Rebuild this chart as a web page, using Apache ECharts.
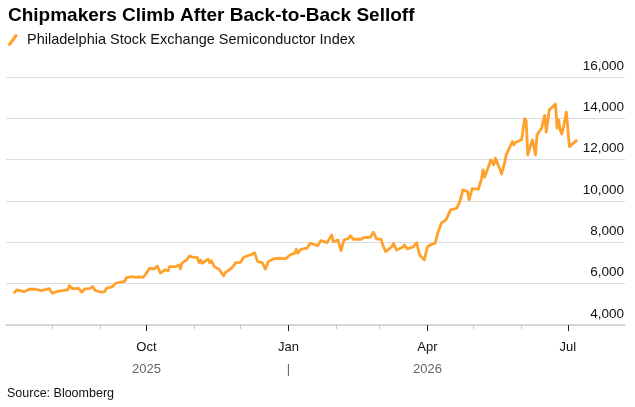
<!DOCTYPE html>
<html>
<head>
<meta charset="utf-8">
<script src="https://cdn.jsdelivr.net/npm/echarts@6/dist/echarts.min.js"></script>
<style>
html,body{margin:0;padding:0;background:#fff;}
#chart{width:635px;height:407px;}
</style>
</head>
<body>
<div id="chart"></div>
<script>
const titleText = 'Chipmakers Climb After Back-to-Back Selloff';
const seriesName = 'Philadelphia Stock Exchange Semiconductor Index';
const sourceText = 'Source: Bloomberg';

const dates = [
'2025-07-07','2025-07-09','2025-07-11','2025-07-14','2025-07-17','2025-07-21','2025-07-22','2025-07-25','2025-07-30',
'2025-08-01','2025-08-04','2025-08-05','2025-08-07','2025-08-11','2025-08-12','2025-08-14','2025-08-18','2025-08-20',
'2025-08-22','2025-08-25','2025-08-27','2025-08-29',
'2025-09-02','2025-09-04','2025-09-05','2025-09-09','2025-09-11','2025-09-15','2025-09-17','2025-09-18','2025-09-22',
'2025-09-24','2025-09-26','2025-09-29','2025-09-30',
'2025-10-02','2025-10-03','2025-10-06','2025-10-08','2025-10-09','2025-10-10','2025-10-13','2025-10-14','2025-10-15',
'2025-10-16','2025-10-20','2025-10-22','2025-10-23','2025-10-24','2025-10-27','2025-10-29','2025-10-31',
'2025-11-03','2025-11-04','2025-11-05','2025-11-06','2025-11-07','2025-11-10','2025-11-11','2025-11-12','2025-11-14',
'2025-11-17','2025-11-18','2025-11-20','2025-11-21','2025-11-25','2025-11-28',
'2025-12-01','2025-12-03','2025-12-05','2025-12-08','2025-12-10','2025-12-12','2025-12-15','2025-12-17','2025-12-19',
'2025-12-22','2025-12-26','2025-12-30',
'2026-01-02','2026-01-05','2026-01-06','2026-01-07','2026-01-09','2026-01-13','2026-01-15','2026-01-20','2026-01-22',
'2026-01-26','2026-01-27','2026-01-29','2026-01-30',
'2026-02-02','2026-02-04','2026-02-06','2026-02-09','2026-02-10','2026-02-12','2026-02-17','2026-02-19','2026-02-23',
'2026-02-25','2026-02-27',
'2026-03-02','2026-03-03','2026-03-05','2026-03-09','2026-03-10','2026-03-12','2026-03-16','2026-03-17','2026-03-19',
'2026-03-23','2026-03-25','2026-03-26','2026-03-27','2026-03-30',
'2026-04-01','2026-04-03','2026-04-06','2026-04-08','2026-04-10','2026-04-13','2026-04-14','2026-04-16','2026-04-20',
'2026-04-21','2026-04-22','2026-04-24','2026-04-27','2026-04-28','2026-04-30',
'2026-05-04','2026-05-05','2026-05-06','2026-05-07','2026-05-08','2026-05-11','2026-05-12','2026-05-13','2026-05-14',
'2026-05-15','2026-05-18','2026-05-19','2026-05-20','2026-05-21','2026-05-22','2026-05-24','2026-05-26','2026-05-27',
'2026-05-28',
'2026-06-01','2026-06-03','2026-06-04','2026-06-05','2026-06-08','2026-06-10','2026-06-11','2026-06-14','2026-06-16',
'2026-06-17','2026-06-19','2026-06-23','2026-06-24','2026-06-25','2026-06-26','2026-06-27','2026-06-28','2026-06-30',
'2026-07-02','2026-07-07'
];

const values = [
5535,5695,5660,5615,5730,5730,5645,5660,5760,
5535,5615,5535,5660,5695,5905,5760,5775,5585,
5745,5760,5855,5660,
5585,5615,5775,5855,6020,6085,6115,6290,6340,
6310,6325,6310,6375,
6630,6745,6710,6855,6795,6505,6665,6745,6630,
6825,6825,6905,6725,6990,7150,7340,7280,
7260,7015,7150,6990,7065,7180,7015,7115,6825,
6695,6630,6375,6535,6745,7015,
7035,7280,7340,7405,7500,7065,7015,6710,7065,
7195,7230,7195,
7390,7470,7665,7470,7665,7715,7955,7840,8085,
7985,8050,8360,8035,
8115,7600,8115,8200,8325,8150,8150,8230,8245,
8490,8165,
8150,7875,7550,7790,7955,7630,7760,7875,7680,
7790,7985,7665,7390,7150,
7790,7875,7955,8520,8925,9085,9245,9570,9650,
9730,9970,10540,10455,10055,10600,
10570,10540,11055,11505,11150,11750,11990,12075,11750,
12075,11540,11300,11310,11830,12235,12550,12880,12720,
12830,
12960,13990,13860,12235,12960,12235,13200,13525,14140,
13330,14415,14690,13525,13930,13445,13235,13525,14300,
12630,12960
];

const majorTickDates = ['2025-10-01','2026-01-01','2026-04-01','2026-07-01'];
const monthLabels = ['Oct','Jan','Apr','Jul'];
const yearLabels = ['2025','|','2026',''];
const minorTickDates = ['2025-08-01','2025-09-01','2025-11-01','2025-12-01','2026-02-01','2026-03-01','2026-05-01','2026-06-01'];
const xMin = '2025-07-02';
const xMax = '2026-08-07';
const yTicks = [4000, 6000, 8000, 10000, 12000, 14000, 16000];

function ts(s){ const p = s.split('-').map(Number); return Date.UTC(p[0], p[1]-1, p[2]); }

const seriesData = dates.map((d, i) => [ts(d), values[i]]);
const majorTs = majorTickDates.map(ts);
const minorTs = minorTickDates.map(ts);

const orange = '#ffa12c';
const font = '"Liberation Sans", Arial, Helvetica, sans-serif';

const chart = echarts.init(document.getElementById('chart'), null, {renderer: 'canvas'});
chart.setOption({
  animation: false,
  backgroundColor: '#ffffff',
  textStyle: {fontFamily: font},
  title: {
    text: titleText,
    left: 3, top: 1,
    textStyle: {fontSize: 19, fontWeight: 'bold', color: '#000', fontFamily: font}
  },
  grid: {left: 6, right: 10, top: 77, bottom: 82, containLabel: false, outerBoundsMode: 'none'},
  xAxis: [{
    type: 'value',
    min: ts(xMin), max: ts(xMax),
    axisLine: {show: true, lineStyle: {color: '#cfcfcf', width: 1.5}},
    axisTick: {show: true, customValues: majorTs, length: 6, lineStyle: {color: '#222', width: 1}},
    splitLine: {show: false},
    axisLabel: {
      customValues: majorTs,
      margin: 11,
      formatter: function (v) {
        const i = majorTs.indexOf(v);
        if (i < 0) return '';
        return '{m|' + monthLabels[i] + '}\n{y|' + (yearLabels[i] || ' ') + '}';
      },
      rich: {
        m: {fontSize: 13, color: '#111', lineHeight: 22, fontFamily: font},
        y: {fontSize: 13, color: '#666', lineHeight: 22, fontFamily: font}
      }
    }
  }, {
    type: 'value',
    gridIndex: 0,
    position: 'bottom',
    min: ts(xMin), max: ts(xMax),
    axisLine: {show: false},
    axisTick: {show: true, customValues: minorTs, length: 4, lineStyle: {color: '#c8c8c8', width: 1}},
    axisLabel: {show: false},
    splitLine: {show: false}
  }],
  yAxis: {
    type: 'value',
    position: 'right',
    min: yTicks[0], max: yTicks[yTicks.length - 1], interval: 2000,
    axisLine: {show: false},
    axisTick: {show: false},
    splitLine: {show: true, lineStyle: {color: '#dcdcdc', width: 1}},
    axisLabel: {
      inside: true,
      margin: 1,
      verticalAlign: 'bottom',
      padding: [0, 0, 4, 0],
      fontSize: 13.5,
      color: '#111',
      fontFamily: font,
      formatter: v => v.toLocaleString('en-US')
    }
  },
  series: [{
    name: seriesName,
    type: 'line',
    xAxisIndex: 0,
    data: seriesData,
    showSymbol: false,
    lineStyle: {color: orange, width: 2.8, join: 'round'},
    itemStyle: {color: orange}
  }],
  graphic: [
    {type: 'line', shape: {x1: 9.5, y1: 44.5, x2: 16, y2: 35.5}, style: {stroke: orange, lineWidth: 3, lineCap: 'round'}},
    {type: 'text', left: 27, top: 32, style: {text: seriesName, fontSize: 14.5, fill: '#111', fontFamily: font}},
    {type: 'text', left: 7, top: 387, style: {text: sourceText, fontSize: 12.5, fill: '#111', fontFamily: font}}
  ]
});
</script>
</body>
</html>
